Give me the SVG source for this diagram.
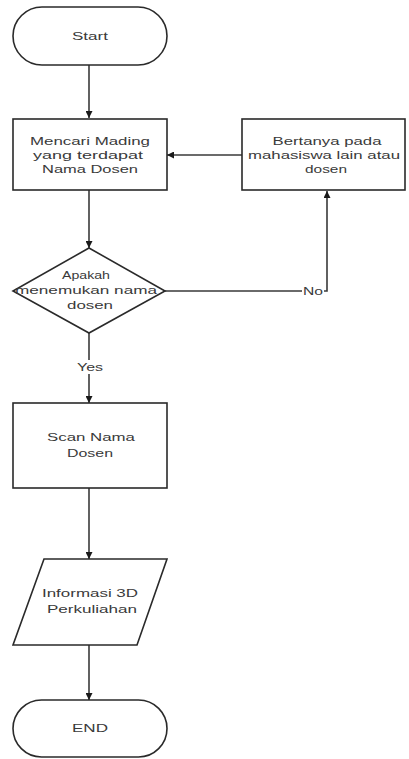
<svg xmlns="http://www.w3.org/2000/svg" width="409" height="759" viewBox="0 0 409 759">
<style>
.s{fill:#fff;stroke:#2a2a2a;stroke-width:1.6}
.c{fill:none;stroke:#3a3a3a;stroke-width:1.6}
text{font-family:"Liberation Sans",Arial,sans-serif;font-size:11px;fill:#3a3a3a;text-anchor:middle;dominant-baseline:central}
</style>
<defs>
<marker id="ah" viewBox="0 0 10 10" refX="10" refY="5" markerWidth="7" markerHeight="7" markerUnits="userSpaceOnUse" orient="auto">
<path d="M0,0 L10,5 L0,10 z" fill="#1a1a1a"/>
</marker>
</defs>
<rect width="409" height="759" fill="#fff"/>
<g id="connectors">
<line class="c" x1="89" y1="65" x2="89" y2="118" marker-end="url(#ah)"/>
<line class="c" x1="242" y1="155" x2="167" y2="155" marker-end="url(#ah)"/>
<line class="c" x1="89" y1="190" x2="89" y2="248" marker-end="url(#ah)"/>
<polyline class="c" points="165,291 327,291 327,191" marker-end="url(#ah)"/>
<line class="c" x1="89" y1="333" x2="89" y2="403" marker-end="url(#ah)"/>
<line class="c" x1="89" y1="488" x2="89" y2="559" marker-end="url(#ah)"/>
<line class="c" x1="89" y1="645" x2="89" y2="700" marker-end="url(#ah)"/>
<rect x="302" y="284" width="22" height="14" fill="#fff"/>
<text x="313" y="291" textLength="20" lengthAdjust="spacingAndGlyphs">No</text>
<rect x="76" y="360" width="28" height="14" fill="#fff"/>
<text x="90" y="367" textLength="26" lengthAdjust="spacingAndGlyphs">Yes</text>
</g>
<g id="start">
<rect class="s" x="13" y="7" width="154" height="58" rx="29" ry="29"/>
<text x="90" y="36" textLength="36" lengthAdjust="spacingAndGlyphs">Start</text>
</g>
<g id="mencari">
<rect class="s" x="13" y="119" width="154" height="71"/>
<text x="90" y="141" textLength="120" lengthAdjust="spacingAndGlyphs">Mencari Mading</text>
<text x="88" y="155" textLength="110" lengthAdjust="spacingAndGlyphs">yang terdapat</text>
<text x="90" y="169" textLength="96" lengthAdjust="spacingAndGlyphs">Nama Dosen</text>
</g>
<g id="bertanya">
<rect class="s" x="242" y="119" width="163" height="71"/>
<text x="327" y="141" textLength="109" lengthAdjust="spacingAndGlyphs">Bertanya pada</text>
<text x="324" y="155" textLength="152" lengthAdjust="spacingAndGlyphs">mahasiswa lain atau</text>
<text x="326" y="169" textLength="42" lengthAdjust="spacingAndGlyphs">dosen</text>
</g>
<g id="apakah">
<polygon class="s" points="89,248 165,291 89,333 13,291"/>
<text x="86" y="275" textLength="48" lengthAdjust="spacingAndGlyphs">Apakah</text>
<text x="86" y="290" textLength="142" lengthAdjust="spacingAndGlyphs">menemukan nama</text>
<text x="90" y="305" textLength="46" lengthAdjust="spacingAndGlyphs">dosen</text>
</g>
<g id="scan">
<rect class="s" x="13" y="403" width="154" height="85"/>
<text x="91" y="437" textLength="88" lengthAdjust="spacingAndGlyphs">Scan Nama</text>
<text x="90" y="453" textLength="46" lengthAdjust="spacingAndGlyphs">Dosen</text>
</g>
<g id="informasi">
<polygon class="s" points="44,559 167,559 137,645 13,645"/>
<text x="90" y="593" textLength="96" lengthAdjust="spacingAndGlyphs">Informasi 3D</text>
<text x="92" y="609" textLength="90" lengthAdjust="spacingAndGlyphs">Perkuliahan</text>
</g>
<g id="end">
<rect class="s" x="13" y="700" width="154" height="57" rx="28.5" ry="28.5"/>
<text x="90" y="728" textLength="36" lengthAdjust="spacingAndGlyphs">END</text>
</g>
</svg>
